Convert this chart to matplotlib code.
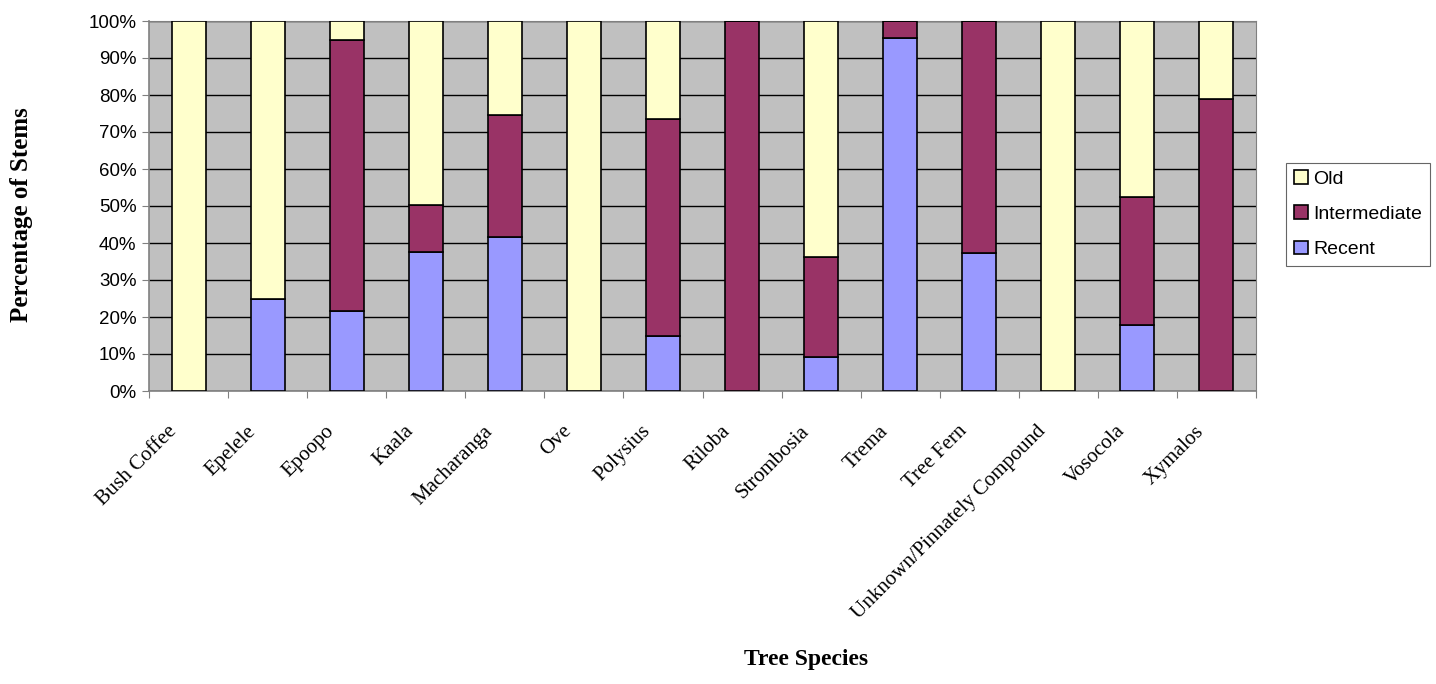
import numpy as np
import matplotlib.pyplot as plt
from matplotlib.ticker import FuncFormatter
from matplotlib.transforms import ScaledTranslation

# species and stacked percentages
species = ['Bush Coffee', 'Epelele', 'Epoopo', 'Kaala', 'Macharanga', 'Ove',
           'Polysius', 'Riloba', 'Strombosia', 'Trema', 'Tree Fern',
           'Unknown/Pinnately Compound', 'Vosocola', 'Xymalos']
recent = [0, 25, 21.5, 37.7, 41.5, 0, 15, 0, 9.1, 95.5, 37.2, 0, 17.8, 0]
intermediate = [0, 0, 73.5, 12.6, 33.0, 0, 58.4, 100, 27.0, 4.5, 62.8, 0, 34.5, 78.8]
old = [100 - r - i for r, i in zip(recent, intermediate)]

c_recent = '#9999FF'
c_inter = '#993366'
c_old = '#FFFFCC'

fig = plt.figure(figsize=(14.36, 6.84), dpi=100)
ax = fig.add_axes([149/1436, 1 - 391/684, (1256 - 149)/1436, (391 - 21)/684])
ax.set_facecolor('#C0C0C0')

x = np.arange(len(species))
r = np.array(recent) / 100
i_ = np.array(intermediate) / 100
o = np.array(old) / 100
w = 0.43
ax.bar(x, r, w, color=c_recent, edgecolor='black', linewidth=1.2, label='Recent', zorder=3)
ax.bar(x, i_, w, bottom=r, color=c_inter, edgecolor='black', linewidth=1.2, label='Intermediate', zorder=3)
ax.bar(x, o, w, bottom=r + i_, color=c_old, edgecolor='black', linewidth=1.2, label='Old', zorder=3)

ax.set_xlim(-0.5, len(species) - 0.5)
ax.set_ylim(0, 1)
ax.set_yticks(np.arange(0, 1.01, 0.1))
ax.yaxis.set_major_formatter(FuncFormatter(lambda v, p: '%d%%' % round(v * 100)))
ax.yaxis.grid(True, color='black', linewidth=1.0, zorder=1)
ax.set_axisbelow(True)

# tick marks between categories, labels at centres
ax.set_xticks(np.arange(-0.5, len(species), 1.0))
ax.set_xticklabels([])
ax.set_xticks(x, minor=True)
ax.set_xticklabels(species, minor=True, rotation=45, ha='right', va='center',
                   rotation_mode='anchor', family='Liberation Serif', fontsize=15)
ax.tick_params(axis='x', which='minor', length=0, pad=27)
ax.tick_params(axis='x', which='major', length=5, color='#808080', direction='out')
ax.tick_params(axis='y', length=5, color='#808080', direction='out', pad=4)
shift = ScaledTranslation(-15/100, 0, fig.dpi_scale_trans)
for lab in ax.get_xticklabels(minor=True):
    lab.set_transform(lab.get_transform() + shift)
for lab in ax.get_yticklabels():
    lab.set_family('Liberation Sans')
    lab.set_fontsize(13.5)

for s in ['top', 'right']:
    ax.spines[s].set_color('#808080')
for s in ['left', 'bottom']:
    ax.spines[s].set_color('#808080')
    ax.spines[s].set_linewidth(1.2)

fig.text(806/1436, 1 - 660/684, 'Tree Species', ha='center', va='center',
         family='Liberation Serif', fontweight='bold', fontsize=17)
fig.text(22/1436, 1 - 215/684, 'Percentage of Stems', ha='center', va='center',
         rotation=90, family='Liberation Serif', fontweight='bold', fontsize=18)

h, l = ax.get_legend_handles_labels()
leg = fig.legend(h[::-1], l[::-1], loc='lower right', bbox_to_anchor=(1430/1436, 1 - 266/684),
                 prop={'family': 'Liberation Sans', 'size': 14}, frameon=True, fancybox=False,
                 edgecolor='#404040', handlelength=0.7, handleheight=0.7, handletextpad=0.3,
                 labelspacing=0.9, borderpad=0.4, borderaxespad=0)
leg.get_frame().set_linewidth(0.8)

plt.savefig('out.png', dpi=100)
